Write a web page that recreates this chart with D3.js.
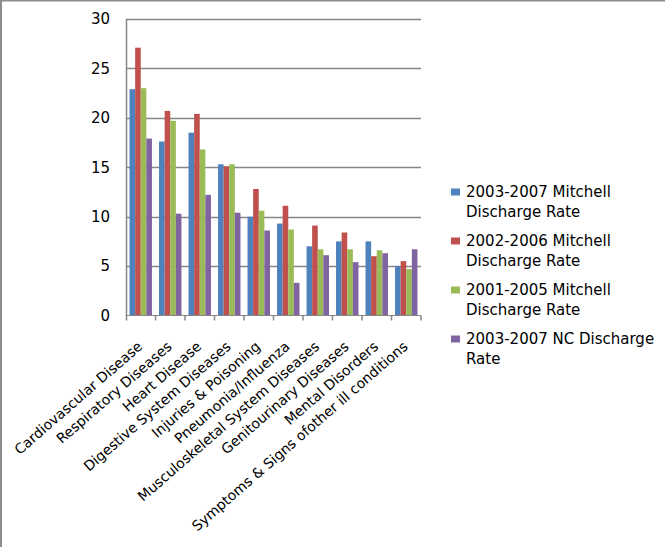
<!DOCTYPE html>
<html>
<head>
<meta charset="utf-8">
<script src="https://cdn.jsdelivr.net/npm/d3@7"></script>
<style>
  html, body { margin: 0; padding: 0; background: #fff; }
  svg { display: block; }
  text { font-family: "DejaVu Sans", sans-serif; fill: #000; }
</style>
</head>
<body>
<svg id="chart" width="665" height="547"></svg>
<script>
// Discharge rates by diagnosis group
const categories = [
  "Cardiovascular Disease",
  "Respiratory Diseases",
  "Heart Disease",
  "Digestive System Diseases",
  "Injuries & Poisoning",
  "Pneumonia/Influenza",
  "Musculoskeletal System Diseases",
  "Genitourinary Diseases",
  "Mental Disorders",
  "Symptoms & Signs ofother ill conditions"
];
const seriesNames = [
  "2003-2007 Mitchell Discharge Rate",
  "2002-2006 Mitchell Discharge Rate",
  "2001-2005 Mitchell Discharge Rate",
  "2003-2007 NC Discharge Rate"
];
const mitchell0307 = [22.9, 17.6, 18.5, 15.3, 10.0, 9.3, 7.0, 7.5, 7.5, 5.0];
const mitchell0206 = [27.1, 20.7, 20.4, 15.1, 12.8, 11.1, 9.1, 8.4, 6.0, 5.5];
const mitchell0105 = [23.0, 19.7, 16.8, 15.3, 10.6, 8.7, 6.7, 6.7, 6.6, 4.7];
const nc0307       = [17.9, 10.3, 12.2, 10.4, 8.6, 3.3, 6.1, 5.4, 6.3, 6.7];
const yTicks = [0, 5, 10, 15, 20, 25, 30];
const colors = ["#4F81BD", "#C0504D", "#9BBB59", "#8064A2"];

const seriesValues = [mitchell0307, mitchell0206, mitchell0105, nc0307];

const svg = d3.select("#chart");

// outer chart frame (only top and left edges fall inside the view)
svg.append("rect")
  .attr("x", 1).attr("y", 0.5)
  .attr("width", 700).attr("height", 600)
  .attr("fill", "none").attr("stroke", "#8c8c8c").attr("stroke-width", 2);

const plot = { left: 126, right: 421, top: 19, bottom: 315.5 };

const x0 = d3.scaleBand().domain(categories).range([plot.left, plot.right]).padding(0);
const x1 = d3.scaleBand().domain(d3.range(seriesNames.length))
  .range([0, x0.bandwidth()]).paddingInner(0).paddingOuter(0.63);
const y = d3.scaleLinear().domain([0, 30]).range([plot.bottom, plot.top]);

// gridlines
svg.append("g").selectAll("line")
  .data(yTicks.filter(t => t > 0))
  .join("line")
  .attr("x1", plot.left).attr("x2", plot.right)
  .attr("y1", d => Math.round(y(d)) + 0.5).attr("y2", d => Math.round(y(d)) + 0.5)
  .attr("stroke", "#868686").attr("stroke-width", 1.5);

// y axis labels
const yAxis = d3.axisLeft(y).tickValues(yTicks).tickSize(0).tickPadding(16).tickFormat(d3.format("d"));
const gy = svg.append("g").attr("transform", `translate(${plot.left},0)`).call(yAxis);
gy.select(".domain").remove();
gy.selectAll("text").style("font-size", "15px").style("font-family", "DejaVu Sans, sans-serif").attr("fill", "#000");

// bars
const groups = svg.append("g").selectAll("g")
  .data(categories)
  .join("g")
  .attr("transform", d => `translate(${x0(d)},0)`);

groups.selectAll("rect")
  .data((d, i) => seriesValues.map((vals, s) => ({ s, v: vals[i] })))
  .join("rect")
  .attr("x", d => x1(d.s))
  .attr("width", x1.bandwidth())
  .attr("y", d => y(d.v))
  .attr("height", d => y(0) - y(d.v))
  .attr("fill", d => colors[d.s]);

// axes lines
svg.append("line")
  .attr("x1", plot.left + 0.5).attr("x2", plot.left + 0.5)
  .attr("y1", plot.top).attr("y2", plot.bottom + 5)
  .attr("stroke", "#868686").attr("stroke-width", 1.5);
svg.append("line")
  .attr("x1", plot.left).attr("x2", plot.right)
  .attr("y1", plot.bottom).attr("y2", plot.bottom)
  .attr("stroke", "#868686").attr("stroke-width", 1);

// category tick marks at band boundaries
const boundaries = categories.map(c => x0(c) + x0.bandwidth());
svg.append("g").selectAll("line")
  .data(boundaries)
  .join("line")
  .attr("x1", d => d).attr("x2", d => d)
  .attr("y1", plot.bottom).attr("y2", plot.bottom + 5)
  .attr("stroke", "#868686").attr("stroke-width", 1.5);

// rotated category labels
svg.append("g").selectAll("text")
  .data(categories)
  .join("text")
  .attr("transform", d => `translate(${x0(d) + x0.bandwidth() / 2 - 4},${plot.bottom + 25}) rotate(-41)`)
  .attr("text-anchor", "end")
  .attr("dy", "0.7em")
  .style("font-size", "14px")
  .text(d => d);

// legend
const legend = svg.append("g").attr("transform", "translate(451,186)");
const entry = legend.selectAll("g")
  .data(seriesNames)
  .join("g")
  .attr("transform", (d, i) => `translate(0,${i * 49})`);
entry.append("rect")
  .attr("x", 0).attr("y", 2.5).attr("width", 9).attr("height", 7)
  .attr("fill", (d, i) => colors[i]);
entry.append("text")
  .attr("x", 15).attr("y", 11)
  .style("font-size", "15px")
  .each(function (d) {
    const t = d3.select(this);
    const cut = d.startsWith("2003-2007 NC")
      ? d.lastIndexOf(" ")
      : d.indexOf(" Discharge");
    const lines = [d.slice(0, cut), d.slice(cut + 1)];
    lines.forEach((ln, k) => {
      t.append("tspan").attr("x", 15).attr("dy", k === 0 ? 0 : 20).text(ln);
    });
  });
</script>
</body>
</html>
